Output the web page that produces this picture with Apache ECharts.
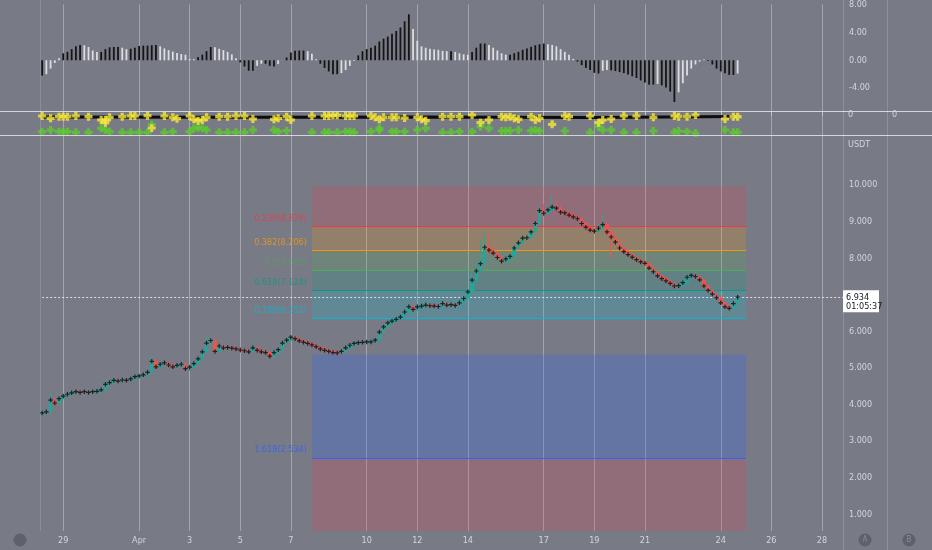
<!DOCTYPE html>
<html><head><meta charset="utf-8">
<script src="https://cdn.jsdelivr.net/npm/echarts@6/dist/echarts.min.js"></script>
<style>html,body{margin:0;padding:0;background:#787b86;}#c{width:932px;height:550px;}</style>
</head><body><div id="c"></div><script>
// ---- time axis (4h bars) ----
const nCat = 201;            // category slots, 4h each
const dayOffset = -2.5;      // slot 0 = Mar 26 12:00 (days from Mar 29)
const barsPerDay = 6;
const tickDays = [0,3,5,7,9,12,14,16,19,21,23,26,28,30];
const tickText = ['29','Apr','3','5','7','10','12','14','17','19','21','24','26','28'];

// ---- price candles (start at slot 10) ----
const firstBar = 10;
const firstOpen = 3.74;
const closes = [
 3.77,3.80,4.12,4.04,4.16,4.23,4.28,4.32,4.35,4.33,
 4.35,4.33,4.35,4.36,4.40,4.55,4.60,4.66,4.64,4.67,
 4.66,4.70,4.76,4.78,4.81,4.88,5.18,5.03,5.10,5.14,
 5.08,5.03,5.07,5.10,4.98,5.02,5.12,5.25,5.44,5.68,
 5.75,5.45,5.60,5.55,5.56,5.54,5.52,5.49,5.47,5.44,
 5.55,5.48,5.44,5.42,5.32,5.42,5.50,5.68,5.76,5.84,
 5.80,5.74,5.70,5.67,5.63,5.58,5.52,5.48,5.45,5.42,
 5.41,5.45,5.55,5.62,5.67,5.69,5.70,5.71,5.71,5.76,
 5.98,6.12,6.23,6.28,6.33,6.39,6.53,6.67,6.60,6.67,
 6.69,6.72,6.70,6.69,6.68,6.76,6.72,6.73,6.71,6.78,
 6.90,7.08,7.40,7.65,7.85,8.30,8.22,8.14,8.02,7.92,
 7.98,8.05,8.28,8.42,8.55,8.56,8.72,8.95,9.30,9.23,
 9.32,9.40,9.37,9.26,9.24,9.18,9.13,9.08,8.95,8.85,
 8.77,8.74,8.82,8.92,8.72,8.58,8.44,8.28,8.18,8.10,
 8.03,7.96,7.90,7.86,7.73,7.63,7.52,7.44,7.38,7.31,
 7.24,7.25,7.33,7.48,7.53,7.50,7.41,7.24,7.12,7.02,
 6.92,6.78,6.67,6.63,6.76,6.934];
const highs = [
 3.80,3.86,4.32,4.20,4.22,4.30,4.34,4.38,4.40,4.39,
 4.41,4.40,4.40,4.42,4.48,4.70,4.66,4.74,4.70,4.72,
 4.72,4.75,4.80,4.83,4.86,4.95,5.30,5.24,5.16,5.19,
 5.18,5.11,5.12,5.16,5.14,5.07,5.18,5.32,5.52,5.90,
 5.86,5.80,5.66,5.64,5.62,5.60,5.58,5.56,5.53,5.52,
 5.68,5.60,5.52,5.50,5.46,5.48,5.56,5.74,5.82,5.92,
 5.88,5.84,5.78,5.74,5.71,5.66,5.61,5.56,5.52,5.49,
 5.47,5.50,5.60,5.67,5.72,5.74,5.75,5.76,5.77,5.81,
 6.06,6.18,6.29,6.34,6.39,6.45,6.60,6.78,6.80,6.73,
 6.75,6.79,6.76,6.75,6.74,6.83,6.80,6.78,6.77,6.84,
 6.98,7.16,7.60,7.90,8.50,8.70,8.68,8.30,8.20,8.08,
 8.05,8.12,8.36,8.50,8.62,8.64,8.80,9.05,9.45,9.48,
 9.45,9.70,9.55,9.44,9.32,9.30,9.22,9.17,9.12,8.99,
 8.90,8.82,8.92,9.20,8.98,8.76,8.62,8.48,8.32,8.22,
 8.14,8.07,8.00,7.96,7.90,7.78,7.67,7.56,7.48,7.42,
 7.35,7.31,7.38,7.55,7.60,7.58,7.55,7.45,7.28,7.16,
 7.06,6.96,6.82,6.72,6.82,6.97];
const lows = [
 3.72,3.74,3.78,3.98,4.00,4.12,4.20,4.24,4.29,4.28,
 4.30,4.28,4.30,4.30,4.32,4.37,4.50,4.56,4.58,4.60,
 4.61,4.62,4.66,4.72,4.74,4.77,4.85,4.98,4.99,5.05,
 5.03,4.98,5.00,5.03,4.89,4.92,4.99,5.09,5.20,5.40,
 5.60,5.40,5.42,5.50,5.50,5.49,5.47,5.44,5.42,5.38,
 5.41,5.43,5.38,5.36,5.26,5.29,5.38,5.46,5.64,5.72,
 5.75,5.70,5.66,5.62,5.58,5.53,5.48,5.43,5.40,5.37,
 5.36,5.37,5.42,5.51,5.58,5.63,5.65,5.66,5.66,5.68,
 5.73,5.94,6.08,6.18,6.24,6.28,6.35,6.49,6.54,6.56,
 6.63,6.65,6.64,6.64,6.62,6.64,6.66,6.67,6.66,6.67,
 6.74,6.86,7.04,7.35,7.60,7.80,8.10,8.06,7.94,7.86,
 7.88,7.93,8.02,8.24,8.38,8.48,8.52,8.68,8.90,9.15,
 9.18,9.25,9.28,9.20,9.18,9.12,9.07,9.02,8.88,8.78,
 8.70,8.68,8.70,8.78,8.62,7.98,8.36,8.20,8.10,8.03,
 7.96,7.88,7.82,7.78,7.64,7.56,7.45,7.38,7.31,7.25,
 7.18,7.19,7.21,7.29,7.44,7.44,7.35,7.17,7.04,6.94,
 6.84,6.70,6.58,6.57,6.60,6.72];

// ---- oscillator histogram (same bars) ----
const hist = [
 -2.2,-2.0,-1.2,-0.4,0.3,1.0,1.2,1.6,2.0,2.2,
 2.15,1.9,1.4,1.2,1.2,1.6,1.85,1.9,1.9,1.8,
 1.6,1.65,1.8,2.05,2.1,2.1,2.15,2.2,2.0,1.7,
 1.45,1.25,1.05,0.9,0.8,0.2,0.15,0.45,0.8,1.3,
 1.9,1.85,1.65,1.45,1.2,0.85,0.3,-0.3,-0.9,-1.5,
 -1.5,-0.8,-0.5,-0.5,-0.8,-0.9,-0.55,0.02,0.4,1.1,
 1.35,1.4,1.4,1.3,0.95,0.15,-0.5,-1.1,-1.6,-2.0,
 -2.0,-1.85,-1.4,-0.8,-0.1,0.7,1.3,1.6,1.8,2.1,
 2.7,3.1,3.4,3.8,4.2,4.7,5.6,6.6,4.5,2.8,
 2.0,1.8,1.65,1.55,1.5,1.35,1.3,1.3,1.2,1.0,
 0.85,0.8,1.2,1.8,2.4,2.4,2.2,1.8,1.4,1.0,
 0.8,0.8,1.0,1.2,1.5,1.7,1.95,2.15,2.3,2.4,
 2.3,2.2,2.0,1.6,1.2,0.8,0.2,-0.2,-0.7,-1.1,
 -1.4,-1.8,-1.9,-1.5,-1.4,-1.45,-1.55,-1.7,-1.85,-2.05,
 -2.3,-2.55,-2.9,-3.2,-3.5,-3.5,-3.4,-3.6,-3.9,-4.5,
 -6.0,-4.6,-3.3,-2.2,-1.2,-0.6,-0.2,0.1,-0.1,-0.6,
 -1.2,-1.6,-1.85,-2.1,-2.1,-1.9];
const histTicks = [8,4,0,-4];

// ---- signal pane (slot, level) ----
const signalLine = [[10,5],[60,5.3],[100,5],[140,5.4],[175,4.6]];
const yellowMarks = [[10,4],[12,6.3],[14,4.7],[15,4.7],[16,4.7],[18,4],[21,4.7],[24,8],[25,10.7],[25,8],[26,5.3],[29,4.7],[31,4],[32,4],[35,3.7],[36,16],[39,4],[41,5.3],[42,6.7],[45,4],[46,7.3],[47,8.7],[48,8],[49,5.3],[52,4.7],[54,4.7],[56,4],[58,4],[60,7],[65,7.3],[66,6.3],[68,4.7],[69,8],[74,4],[77,4],[78,4],[79,3.3],[80,3.3],[82,4],[83,4],[84,4],[88,4],[89,5.3],[90,7.3],[91,5.3],[93,5.3],[94,5.3],[96,6],[99,5.3],[100,7.3],[101,8.7],[105,4.7],[107,4.7],[109,4.7],[112,3],[114,10.7],[116,8],[119,4.7],[120,5.3],[121,4.7],[122,6.3],[123,7.3],[126,4.7],[127,8],[128,6.3],[131,12.3],[134,4],[135,4.7],[140,4],[142,10.7],[143,8],[145,7],[148,4],[151,4],[155,5.3],[160,4],[161,4.7],[163,4.7],[165,3],[172,7],[174,4.7],[175,4.7]];
const greenMarks = [[10,19.7],[12,18],[14,19.7],[15,19.7],[16,19.7],[18,20.3],[21,20.3],[24,16.3],[25,18],[26,19.7],[29,20.3],[31,20.3],[33,20.3],[35,20.3],[36,12.7],[39,20.3],[41,19.7],[45,19.7],[46,16.3],[47,15.7],[48,16.3],[49,18],[52,20.3],[54,20.3],[56,20.3],[58,20.3],[60,18],[65,18],[66,19.7],[68,18.7],[74,20.3],[77,20.3],[78,20.3],[80,20.3],[82,19.7],[83,19.7],[84,20.3],[88,19.7],[90,16.3],[90,18],[93,19.7],[94,19.7],[96,19.7],[99,18],[101,16.3],[105,20.3],[107,20.3],[109,19.7],[112,19.7],[114,14.7],[116,16.3],[119,19],[120,19],[121,18.7],[123,18],[126,18.7],[127,18],[128,19],[134,19],[140,20.3],[142,14.7],[143,18],[145,18],[148,20.3],[151,20.3],[155,19],[160,20.3],[161,19],[163,19.7],[165,21],[172,18],[174,20.3],[175,20.3]];

// ---- fibonacci retracement ----
const fibStartSlot = 74, fibEndSlot = 177;
const fibHigh = 9.959, fibLow = 5.370;
const fibRatios = [0.236,0.382,0.5,0.618,0.786,1.618];
const fibPrices = [8.876,8.206,7.665,7.124,6.352,2.534];
const fibColors = ['#f23645','#ff9800','#4caf50','#089981','#00bcd4','#2962ff'];
const lastPrice = 6.934;
const countdown = '01:05:37';
const priceTicks = [1,2,3,4,5,6,8,9,10];

// ---------------------------------------------------------------
const bg = '#787b86';
const txt = '#d3d5da';
const font = "'Liberation Sans Narrow','DejaVu Sans Condensed','Liberation Sans',sans-serif";
const categories = Array.from({length:nCat},(_,k)=>String(k));
const tickMap = {};
tickDays.forEach((d,i)=>{ tickMap[Math.round((d-dayOffset)*barsPerDay)] = tickText[i]; });
const isTick = (idx)=> tickMap[idx] !== undefined;

const candleData = categories.map((_,k)=>{
  const i = k-firstBar;
  if (i<0 || i>=closes.length) return '-';
  const o = i===0 ? firstOpen : closes[i-1];
  return [o, closes[i], lows[i], highs[i]];
});
const crossData = closes.map((c,i)=>[i+firstBar, c]);
const histData = categories.map((_,k)=>{
  const i=k-firstBar;
  if (i<0||i>=hist.length) return '-';
  const v=hist[i], p = i>0?hist[i-1]:v;
  return {value:v, itemStyle:{color: Math.abs(v)>=Math.abs(p) ? '#151515' : '#dcdde0'}};
});

const G = {left:0, right:89};
const xCommon = (gi, showLabel)=>({
  type:'category', gridIndex:gi, data:categories, boundaryGap:false,
  axisLine:{show:false},
  axisTick:{show:false, interval:(i)=>isTick(i)},
  axisLabel:{show:showLabel, interval:(i)=>isTick(i), formatter:(v,i)=>tickMap[i]||'',
    color:txt, fontSize:9, fontFamily:font, margin:5},
  splitLine:{show:true, interval:(i)=>isTick(i), lineStyle:{color:'rgba(255,255,255,0.32)', width:1}}
});

const plusPath = 'path://M3,0H7V3H10V7H7V10H3V7H0V3H3Z';
const thinPlus = 'path://M2.2,0H3.8V2.2H6V3.8H3.8V6H2.2V3.8H0V2.2H2.2Z';

const zone = (top,bot,color)=>[{coord:[fibStartSlot,top], itemStyle:{color}},{coord:[fibEndSlot,bot]}];
const hex2rgba=(h,a)=>{const n=parseInt(h.slice(1),16);return `rgba(${n>>16},${(n>>8)&255},${n&255},${a})`;};
const priceMin = 0.54, priceMax = 11.37;

const option = {
  backgroundColor: bg,
  animation:false,
  grid:[
    {left:G.left,right:G.right,top:3,height:113},
    {left:G.left,right:G.right,top:112,height:23},
    {left:G.left,right:G.right,top:135,height:396}
  ],
  xAxis:[xCommon(0,false), xCommon(1,false), xCommon(2,true)],
  yAxis:[
    {type:'value', gridIndex:0, position:'right', min:-8, max:8, interval:4,
     axisLine:{show:false}, axisTick:{show:false}, splitLine:{show:false},
     axisLabel:{color:txt, fontSize:9, fontFamily:font, margin:6,
       formatter:(v)=> histTicks.includes(v) ? v.toFixed(2) : ''}},
    {type:'value', gridIndex:1, min:0, max:23, inverse:true, show:false},
    {type:'value', gridIndex:2, position:'right', min:priceMin, max:priceMax, splitNumber:10,
     axisLine:{show:false}, axisTick:{show:false}, splitLine:{show:false},
     axisLabel:{color:txt, fontSize:9, fontFamily:font, margin:6, showMinLabel:false, showMaxLabel:false,
       formatter:(v)=> priceTicks.some(t=>Math.abs(t-v)<1e-6) ? v.toFixed(3) : ''}}
  ],
  series:[
    {type:'bar', xAxisIndex:0, yAxisIndex:0, data:histData, barWidth:1.8, silent:true},
    {type:'line', xAxisIndex:1, yAxisIndex:1, data:signalLine, symbol:'none', silent:true,
     lineStyle:{color:'#0d0d0d', width:3}, z:3},
    {type:'scatter', xAxisIndex:1, yAxisIndex:1, data:greenMarks, symbol:plusPath, symbolSize:8,
     itemStyle:{color:'#5ccc2c'}, silent:true, z:4},
    {type:'scatter', xAxisIndex:1, yAxisIndex:1, data:yellowMarks, symbol:plusPath, symbolSize:8,
     itemStyle:{color:'#f7e83a'}, silent:true, z:5},
    {type:'candlestick', xAxisIndex:2, yAxisIndex:2, data:candleData, barWidth:3, silent:true, z:3,
     itemStyle:{color:'#26a69a', color0:'#ef5350', borderColor:'#26a69a', borderColor0:'#ef5350', borderWidth:1},
     markArea:{silent:true, z:1, data:[
       zone(fibHigh, fibPrices[0], hex2rgba(fibColors[0],0.2)),
       zone(fibPrices[0], fibPrices[1], hex2rgba(fibColors[1],0.2)),
       zone(fibPrices[1], fibPrices[2], hex2rgba(fibColors[2],0.2)),
       zone(fibPrices[2], fibPrices[3], hex2rgba(fibColors[3],0.2)),
       zone(fibPrices[3], fibPrices[4], hex2rgba(fibColors[4],0.2)),
       zone(fibLow, fibPrices[5], hex2rgba(fibColors[5],0.25)),
       zone(fibPrices[5], priceMin, hex2rgba(fibColors[0],0.2))
     ]},
     markLine:{silent:true, symbol:'none', label:{show:false}, z:2, data:[
       ...fibPrices.map((p,i)=>[{coord:[fibStartSlot,p], lineStyle:{color:fibColors[i], width:1, type:'solid', opacity:0.9}},{coord:[fibEndSlot,p]}]),
       [{coord:[firstBar-0.5,lastPrice], lineStyle:{color:'rgba(255,255,255,0.75)', width:1, type:[2,2]}},{coord:[nCat-1,lastPrice]}]
     ]}
    },
    {type:'scatter', xAxisIndex:2, yAxisIndex:2, data:crossData, symbol:thinPlus, symbolSize:4.5,
     itemStyle:{color:'#0a0a0a'}, silent:true, z:6}
  ]
};

const chart = echarts.init(document.getElementById('c'), null, {renderer:'canvas'});
chart.setOption(option);

// overlays
const gfx = [];
const hline = (y,x1,x2,c)=>({type:'line', shape:{x1,y1:y,x2,y2:y}, style:{stroke:c, lineWidth:1}, silent:true, z:50});
const vline = (x,y1,y2,c)=>({type:'line', shape:{x1:x,y1,x2:x,y2}, style:{stroke:c, lineWidth:1}, silent:true, z:50});
gfx.push(hline(111.5,0,932,'#d4d6db'));
gfx.push(hline(135.5,0,932,'#d4d6db'));
gfx.push(vline(40.5,0,531,'rgba(255,255,255,0.14)'));
gfx.push(vline(843.5,0,550,'rgba(255,255,255,0.16)'));
gfx.push(vline(887.5,0,550,'rgba(255,255,255,0.16)'));
gfx.push({type:'text', x:848, y:145, style:{text:'USDT', fill:txt, font:`9px ${font}`, textVerticalAlign:'middle'}, z:50});
gfx.push({type:'text', x:848, y:115, style:{text:'0', fill:txt, font:`9px ${font}`, textVerticalAlign:'middle'}, z:50});
gfx.push({type:'text', x:892, y:115, style:{text:'0', fill:txt, font:`9px ${font}`, textVerticalAlign:'middle'}, z:50});
// fib labels
fibPrices.forEach((p,i)=>{
  const pt = chart.convertToPixel({xAxisIndex:2, yAxisIndex:2}, [fibStartSlot, p]);
  gfx.push({type:'text', x:pt[0]-5, y:pt[1]-8, style:{text:`${fibRatios[i]}(${p.toFixed(3)})`,
    fill:hex2rgba(fibColors[i], i===2?0.55:0.8), font:`9px ${font}`, textAlign:'right', textVerticalAlign:'middle'}, z:50});
});
// last price tag
const lp = chart.convertToPixel({xAxisIndex:2, yAxisIndex:2}, [nCat-1, lastPrice]);
gfx.push({type:'rect', shape:{x:843, y:lp[1]-7, width:36, height:22}, style:{fill:'#ffffff'}, z:60});
gfx.push({type:'text', x:846, y:lp[1]+0.5, style:{text:lastPrice.toFixed(3), fill:'#131722', font:`9px ${font}`, textVerticalAlign:'middle'}, z:61});
gfx.push({type:'text', x:846, y:lp[1]+9.5, style:{text:countdown, fill:'#131722', font:`9px ${font}`, textVerticalAlign:'middle'}, z:61});
// bottom buttons
[[20,540,''],[865,540,'A'],[909,540,'B']].forEach(([x,y,t])=>{
  gfx.push({type:'circle', shape:{cx:x, cy:y, r:6.5}, style:{fill:'#5e616b'}, z:50});
  if (t) gfx.push({type:'text', x, y, style:{text:t, fill:'#8a8d97', font:`8px ${font}`, textAlign:'center', textVerticalAlign:'middle'}, z:51});
});
chart.setOption({graphic:gfx});
</script></body></html>
